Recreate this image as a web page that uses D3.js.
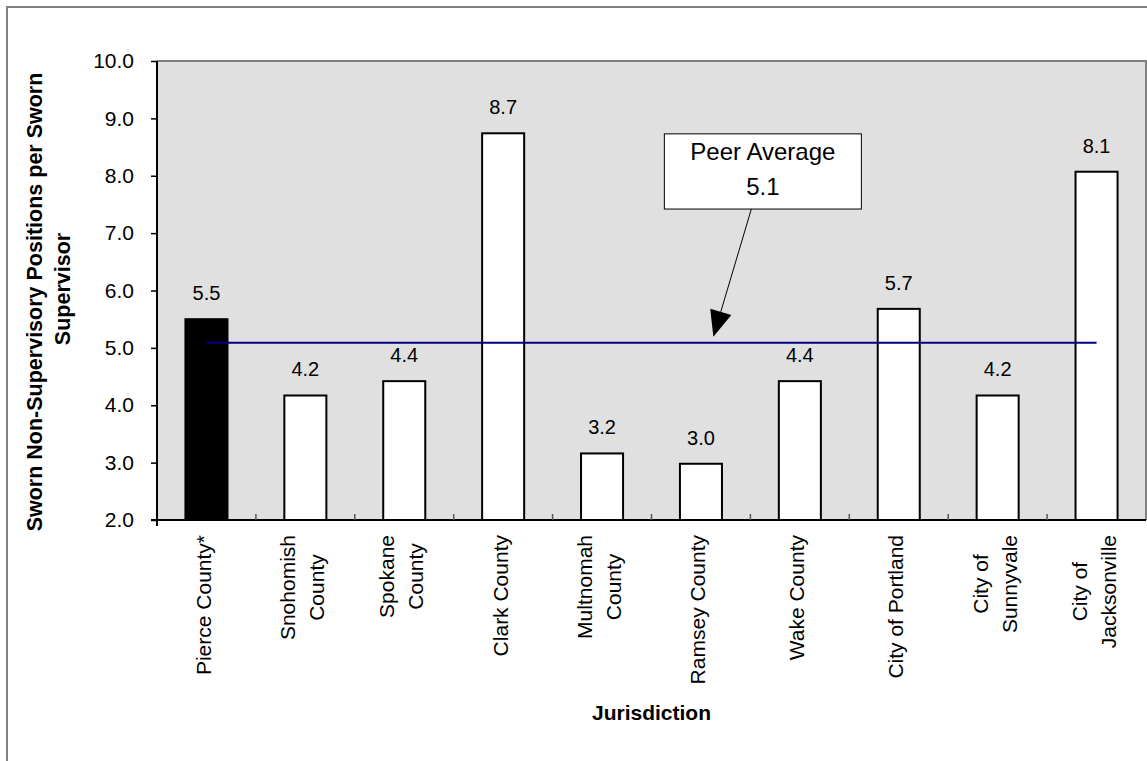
<!DOCTYPE html>
<html>
<head>
<meta charset="utf-8">
<script src="https://cdn.jsdelivr.net/npm/d3@7"></script>
<style>
  body { margin: 0; background: #fff; }
  svg text { font-family: Arial, "Liberation Sans", sans-serif; fill: #000; }
</style>
</head>
<body>
<svg id="chart" width="1147" height="761"></svg>
<script>
// Jurisdictions (line breaks mark wrapped axis labels)
const categories = [
  "Pierce County*", "Snohomish\nCounty", "Spokane\nCounty", "Clark County",
  "Multnomah\nCounty", "Ramsey County", "Wake County", "City of Portland",
  "City of\nSunnyvale", "City of\nJacksonville"
];
// Sworn non-supervisory positions per sworn supervisor
const ratios = [5.5, 4.17, 4.42, 8.74, 3.16, 2.98, 4.42, 5.68, 4.17, 8.07];
const highlighted = ["Pierce County*"];
const peerAverage = 5.09;
const yTickValues = [2, 3, 4, 5, 6, 7, 8, 9, 10];
const yTitleLines = ["Sworn Non-Supervisory Positions per Sworn", "Supervisor"];
const xTitle = "Jurisdiction";
const calloutLines = ["Peer Average", d3.format(".1f")(peerAverage)];

const svg = d3.select("#chart");
const plot = { left: 157, right: 1146, top: 61, bottom: 520 };

const x = d3.scaleBand()
  .domain(categories)
  .range([plot.left, plot.right])
  .paddingInner(0.575)
  .paddingOuter(0.2875);

const y = d3.scaleLinear().domain([2, 10]).range([plot.bottom, plot.top]);

// outer chart frame
svg.append("rect")
  .attr("x", 7).attr("y", 7).attr("width", 1160).attr("height", 780)
  .attr("fill", "#fff").attr("stroke", "#808080").attr("stroke-width", 2);

// plot area
svg.append("rect")
  .attr("x", plot.left).attr("y", plot.top)
  .attr("width", plot.right - plot.left).attr("height", plot.bottom - plot.top)
  .attr("fill", "#e0e0e0");
svg.append("path")
  .attr("d", `M${plot.left},${plot.top}H${plot.right}V${plot.bottom}`)
  .attr("fill", "none").attr("stroke", "#808080").attr("stroke-width", 2);

// bars
svg.append("g").selectAll("rect")
  .data(categories)
  .join("rect")
  .attr("x", d => x(d))
  .attr("y", (d, i) => y(ratios[i]))
  .attr("width", x.bandwidth())
  .attr("height", (d, i) => y(2) - y(ratios[i]))
  .attr("fill", d => highlighted.includes(d) ? "#000" : "#fff")
  .attr("stroke", "#000").attr("stroke-width", 2);

// value labels
svg.append("g").selectAll("text")
  .data(categories)
  .join("text")
  .attr("x", d => x(d) + x.bandwidth() / 2)
  .attr("y", (d, i) => y(ratios[i]) - 19)
  .attr("text-anchor", "middle")
  .attr("font-size", 20)
  .text((d, i) => d3.format(".1f")(ratios[i]));

// peer average line from first to last category centre
const firstC = x(categories[0]) + x.bandwidth() / 2;
const lastC = x(categories[categories.length - 1]) + x.bandwidth() / 2;
svg.append("line")
  .attr("x1", firstC).attr("x2", lastC)
  .attr("y1", y(peerAverage)).attr("y2", y(peerAverage))
  .attr("stroke", "#000080").attr("stroke-width", 2);

// y axis
const yAxis = svg.append("g")
  .attr("transform", `translate(${plot.left},0)`)
  .call(d3.axisLeft(y).tickValues(yTickValues).tickSize(6).tickPadding(17)
    .tickFormat(d3.format(".1f")));
yAxis.select(".domain").attr("stroke", "#000").attr("stroke-width", 2)
  .attr("d", `M0,${plot.top}V${plot.bottom + 6}`);
yAxis.selectAll(".tick line").attr("stroke", "#000").attr("stroke-width", 1.5);
yAxis.selectAll(".tick text").attr("font-size", 21).attr("font-family", "Arial, 'Liberation Sans', sans-serif").attr("fill", "#000");

// x axis baseline and category separators
svg.append("line")
  .attr("x1", plot.left - 6).attr("x2", plot.right)
  .attr("y1", plot.bottom).attr("y2", plot.bottom)
  .attr("stroke", "#000").attr("stroke-width", 2);
svg.append("g").selectAll("line")
  .data(categories.slice(1))
  .join("line")
  .attr("x1", d => x(d) - x.step() * x.paddingInner() / 2)
  .attr("x2", d => x(d) - x.step() * x.paddingInner() / 2)
  .attr("y1", plot.bottom).attr("y2", plot.bottom - 6)
  .attr("stroke", "#555").attr("stroke-width", 1.5);

// category labels, rotated, lines centred on the longest line
const catG = svg.append("g");
categories.forEach(c => {
  const lines = c.split("\n");
  const cx = x(c) + x.bandwidth() / 2 - 3;
  const g = catG.append("g");
  const texts = lines.map((ln, i) => g.append("text")
    .attr("font-size", 21)
    .attr("text-anchor", "middle")
    .attr("dominant-baseline", "central")
    .text(ln));
  const maxLen = d3.max(texts, t => t.node().getComputedTextLength());
  const midY = plot.bottom + 15 + maxLen / 2;
  texts.forEach((t, i) => {
    const lx = cx + (i - (lines.length - 1) / 2) * 29;
    t.attr("transform", `translate(${lx},${midY}) rotate(-90)`);
  });
});

// axis titles
const yTitleCentres = [302, 289];
yTitleLines.forEach((ln, i) => {
  svg.append("text")
    .attr("transform", `translate(${35 + i * 28},${yTitleCentres[i]}) rotate(-90)`)
    .attr("text-anchor", "middle")
    .attr("dominant-baseline", "central")
    .attr("font-size", 21.5).attr("font-weight", "bold")
    .text(ln);
});
svg.append("text")
  .attr("x", (plot.left + plot.right) / 2)
  .attr("y", 720)
  .attr("text-anchor", "middle")
  .attr("font-size", 21).attr("font-weight", "bold")
  .text(xTitle);

// peer average callout with arrow
const boxX = x.step() * 5.13 + plot.left, boxW = 197;
const boxTop = y(8.73), boxBottom = y(7.42);
svg.append("rect")
  .attr("x", boxX).attr("y", boxTop)
  .attr("width", boxW).attr("height", boxBottom - boxTop)
  .attr("fill", "#fff").attr("stroke", "#000").attr("stroke-width", 1);
calloutLines.forEach((ln, i) => {
  svg.append("text")
    .attr("x", boxX + boxW / 2)
    .attr("y", boxTop + 26 + i * 35)
    .attr("text-anchor", "middle")
    .attr("font-size", 24)
    .text(ln);
});
const arrowStart = [boxX + 87, boxBottom];
const arrowTip = [boxX + 49, y(peerAverage) - 6];
const ang = Math.atan2(arrowTip[1] - arrowStart[1], arrowTip[0] - arrowStart[0]);
const headLen = 26, headHalf = 11;
const baseX = arrowTip[0] - headLen * Math.cos(ang), baseY = arrowTip[1] - headLen * Math.sin(ang);
svg.append("line")
  .attr("x1", arrowStart[0]).attr("y1", arrowStart[1])
  .attr("x2", baseX).attr("y2", baseY)
  .attr("stroke", "#000").attr("stroke-width", 1);
svg.append("path")
  .attr("d", `M${arrowTip[0]},${arrowTip[1]}` +
    `L${baseX + headHalf * Math.sin(ang)},${baseY - headHalf * Math.cos(ang)}` +
    `L${baseX - headHalf * Math.sin(ang)},${baseY + headHalf * Math.cos(ang)}Z`)
  .attr("fill", "#000");
</script>
</body>
</html>
